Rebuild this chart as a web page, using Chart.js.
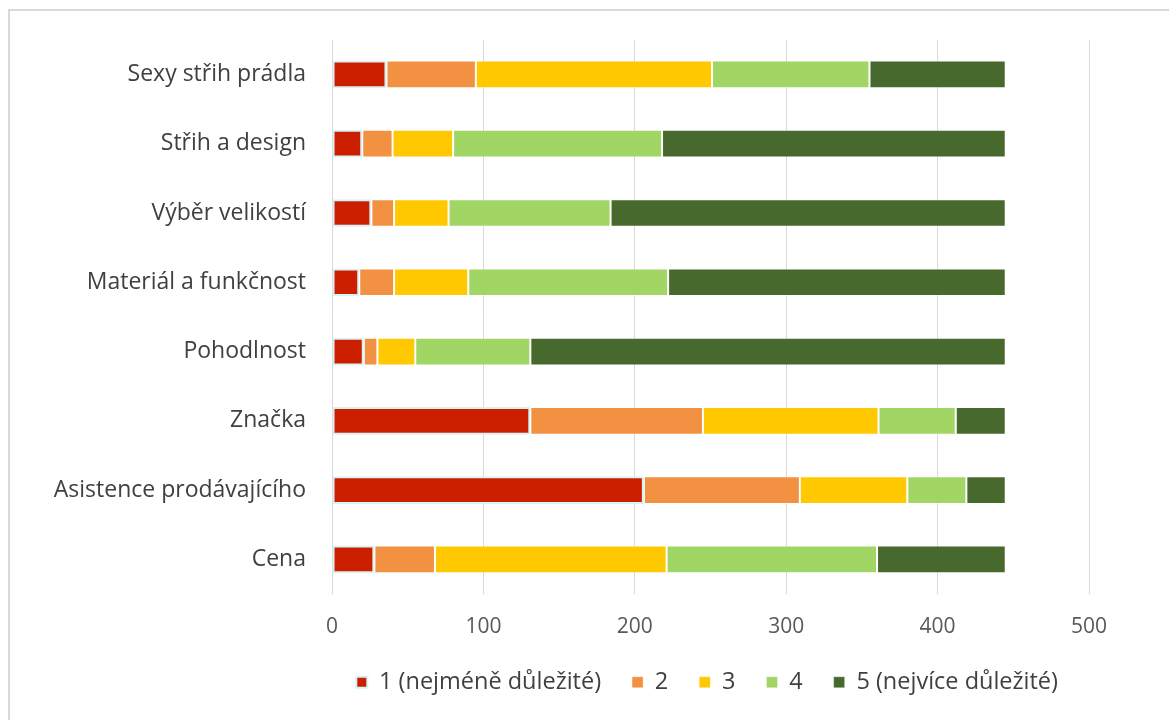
<!DOCTYPE html>
<html lang="cs">
<head>
<meta charset="utf-8">
<title>Důležitost faktorů při výběru prádla</title>
<script src="https://cdn.jsdelivr.net/npm/chart.js@4.4.1/dist/chart.umd.min.js"></script>
<style>
  html, body { margin: 0; padding: 0; background: #ffffff; }
  #wrap { position: relative; width: 1169px; height: 720px; overflow: hidden; }
  #frame {
    position: absolute; left: 8px; top: 9px; width: 1200px; height: 760px;
    border-top: 2px solid #d9d9d9; border-left: 2px solid #d9d9d9;
    box-sizing: border-box;
  }
  #chart { position: absolute; left: 0; top: 0; }
</style>
</head>
<body>
<div id="wrap">
  <div id="frame"></div>
  <canvas id="chart" width="1169" height="720"></canvas>
</div>
<script>
// Hodnocené faktory (shora dolů)
const categories = [
  'Sexy střih prádla',
  'Střih a design',
  'Výběr velikostí',
  'Materiál a funkčnost',
  'Pohodlnost',
  'Značka',
  'Asistence prodávajícího',
  'Cena'
];

// Počty odpovědí podle stupně důležitosti
const rating1 = [36, 20, 26, 18, 21, 131, 206, 28];
const rating2 = [59, 20, 15, 23, 9, 114, 103, 40];
const rating3 = [156, 40, 36, 49, 25, 116, 71, 153];
const rating4 = [104, 138, 107, 132, 76, 51, 39, 139];
const rating5 = [90, 227, 261, 223, 314, 33, 26, 85];

const seriesNames = ['1 (nejméně důležité)', '2', '3', '4', '5 (nejvíce důležité)'];
const seriesValues = [rating1, rating2, rating3, rating4, rating5];
const seriesColors = ['#CC1F00', '#F29141', '#FFC800', '#A1D564', '#47692D'];

const xTicks = [0, 100, 200, 300, 400, 500];

const FONT = '"Open Sans", "Noto Sans", sans-serif';

const datasets = seriesNames.map((name, i) => ({
  label: name,
  data: seriesValues[i],
  backgroundColor: seriesColors[i],
  borderColor: i === 0 ? '#d3f3f6' : 'rgba(255,255,255,0.35)',
  borderWidth: i === 0 ? 2 : 1,
  borderSkipped: false,
  categoryPercentage: 0.8,
  barPercentage: 0.5
}));

new Chart(document.getElementById('chart'), {
  type: 'bar',
  data: { labels: categories, datasets },
  options: {
    indexAxis: 'y',
    responsive: false,
    animation: false,
    layout: { padding: { top: 38, right: 80, left: 0, bottom: 16 } },
    scales: {
      x: {
        stacked: true,
        min: 0,
        max: 500,
        afterBuildTicks: (scale) => { scale.ticks = xTicks.map(v => ({ value: v })); },
        afterFit: (scale) => { scale.height = 45.5; },
        grid: { color: '#d9d9d9', lineWidth: 1, drawTicks: false },
        border: { display: false },
        ticks: {
          padding: 20,
          color: '#595959',
          font: { family: FONT, size: 21 }
        }
      },
      y: {
        stacked: true,
        afterFit: (scale) => { scale.width = 332; },
        grid: { display: false, drawTicks: false },
        border: { display: false },
        ticks: {
          padding: 26,
          color: '#404040',
          font: { family: FONT, size: 23 }
        }
      }
    },
    plugins: {
      legend: {
        position: 'bottom',
        align: 'end',
        labels: {
          boxWidth: 11,
          boxHeight: 11,
          padding: 31,
          color: '#404040',
          font: { family: FONT, size: 23.5 }
        }
      },
      tooltip: { enabled: false }
    }
  }
});
</script>
</body>
</html>
